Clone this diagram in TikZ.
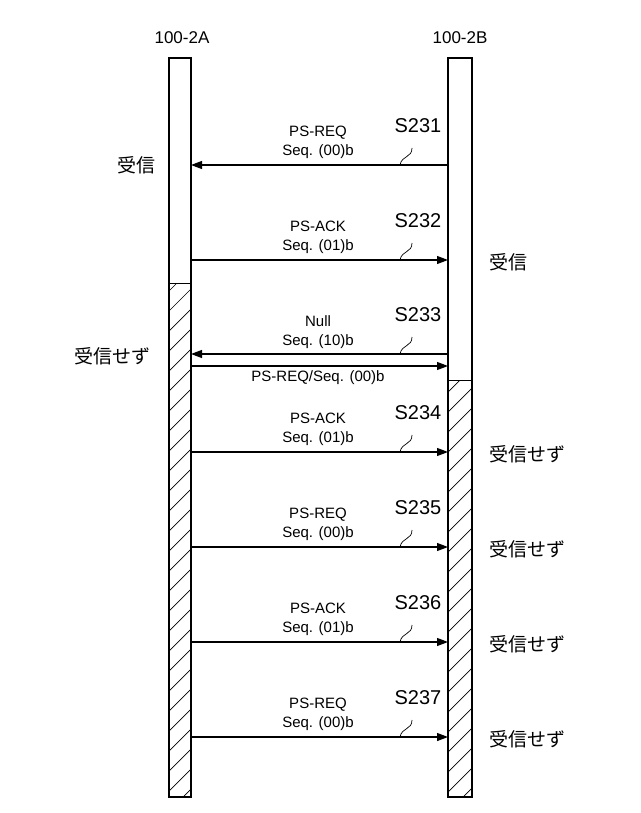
\documentclass[tikz,border=0pt]{standalone}
\usepackage{fontspec}
\setmainfont{Liberation Sans}
\newfontfamily\cjk{Noto Sans CJK JP}
\usetikzlibrary{arrows.meta}
\begin{document}
\begin{tikzpicture}[x=1pt,y=-1pt,
  msg/.style={-{Triangle[length=11pt,width=8pt]},line width=1.1pt},
  lbl/.style={font=\fontsize{15}{19}\selectfont,align=center},
  slbl/.style={font=\fontsize{20}{22}\selectfont},
  jp/.style={font=\cjk\fontsize{19}{21}\selectfont},
  bar/.style={draw,line width=1.1pt}]
\useasboundingbox (0,0) rectangle (640,813);
\node[font=\fontsize{17}{19}\selectfont] (ta) at (182,38) {100-2A};
\node[font=\fontsize{17}{19}\selectfont] (tb) at (460,38) {100-2B};
% hatching
\begin{scope}
\clip (169,283) rectangle (191,797);
\foreach \k in {0,...,30} {\draw[line width=0.7pt] (160,300+\k*20) -- (200,300+\k*20-40);}
\end{scope}
\begin{scope}
\clip (448,380) rectangle (472,797);
\foreach \k in {0,...,25} {\draw[line width=0.7pt] (440,400+\k*20) -- (480,400+\k*20-40);}
\end{scope}
\draw[line width=0.9pt] (169,283) -- (191,283);
\draw[line width=0.9pt] (448,380) -- (472,380);
\node[bar,minimum width=22pt,minimum height=739pt,inner sep=0pt] (A) at (180,427.5) {};
\node[bar,minimum width=24pt,minimum height=739pt,inner sep=0pt] (B) at (460,427.5) {};
% messages
\coordinate (a1) at (191,165); \coordinate (b1) at (448,165);
\draw[msg] (b1) -- (a1);
\node[lbl] (m1) at (318,142) {PS-REQ\\Seq. (00)b};
\node[slbl] (s1) at (418,126) {S231};
\draw[line width=0.7pt] (400,165) .. controls (402,155) and (412,158) .. (412,148);
\node[jp] (r1) at (136,165) {受信};
\foreach \y/\t/\s/\j in {260/PS-ACK\\Seq. (01)b/S232/受信, 452/PS-ACK\\Seq. (01)b/S234/受信せず, 547/PS-REQ\\Seq. (00)b/S235/受信せず, 642/PS-ACK\\Seq. (01)b/S236/受信せず, 737/PS-REQ\\Seq. (00)b/S237/受信せず} {
  \coordinate (la) at (191,\y); \coordinate (lb) at (448,\y);
  \draw[msg] (la) -- (lb);
  \node[lbl] (m) at (318,\y-23) {\t};
  \node[slbl] (s) at (418,\y-39) {\s};
  \draw[line width=0.7pt] (400,\y) .. controls (402,\y-10) and (412,\y-7) .. (412,\y-17);
  \node[jp,anchor=west] (j) at (486,\y+2) {\j};
}
% S233
\coordinate (a3) at (191,354); \coordinate (b3) at (448,354);
\coordinate (a4) at (191,366); \coordinate (b4) at (448,366);
\draw[msg] (b3) -- (a3);
\draw[msg] (a4) -- (b4);
\node[lbl] (m3) at (318,332) {Null\\Seq. (10)b};
\node[slbl] (s3) at (418,315) {S233};
\draw[line width=0.7pt] (400,354) .. controls (402,344) and (412,347) .. (412,337);
\node[lbl] (m4) at (318,378) {PS-REQ/Seq. (00)b};
\node[jp] (r3) at (112,356) {受信せず};
\end{tikzpicture}
\end{document}
